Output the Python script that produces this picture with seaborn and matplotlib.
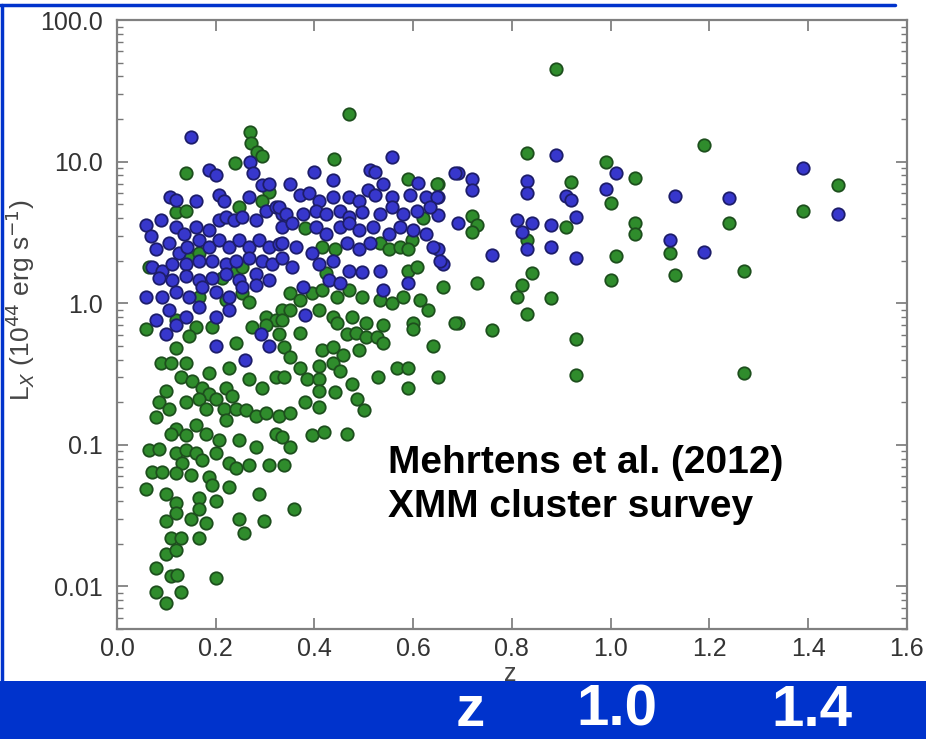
import numpy as np
import pandas as pd
import matplotlib
matplotlib.use("Agg")
import matplotlib.pyplot as plt
import matplotlib.ticker as mticker
from matplotlib.patches import Rectangle
from matplotlib.lines import Line2D
import seaborn as sns

# Blue sample (z, Lx in 1e44 erg/s)
blue_z = [
    0.89, 1.01, 0.69, 0.72, 0.72, 0.65, 0.83, 0.83, 0.91, 0.92, 0.99, 1.13, 0.65, 0.69, 0.81,
    0.84, 0.82, 0.88, 0.93, 1.12, 0.65, 0.66, 0.76, 0.83, 0.88, 0.93, 1.39, 1.24, 1.46, 1.19,
    0.15, 0.187, 0.2, 0.27, 0.275, 0.108, 0.12, 0.16, 0.207, 0.217, 0.268, 0.294, 0.309, 0.059,
    0.069, 0.089, 0.12, 0.136, 0.16, 0.187, 0.207, 0.221, 0.238, 0.254, 0.282, 0.302, 0.323,
    0.335, 0.079, 0.106, 0.126, 0.142, 0.166, 0.187, 0.207, 0.227, 0.248, 0.268, 0.288, 0.309,
    0.329, 0.071, 0.091, 0.112, 0.14, 0.166, 0.193, 0.221, 0.242, 0.268, 0.294, 0.315, 0.335,
    0.085, 0.112, 0.14, 0.166, 0.193, 0.221, 0.248, 0.282, 0.309, 0.059, 0.091, 0.12, 0.146,
    0.173, 0.2, 0.227, 0.254, 0.282, 0.079, 0.106, 0.14, 0.166, 0.2, 0.227,
    0.558, 0.4, 0.512, 0.522, 0.684, 0.35, 0.437, 0.538, 0.609, 0.508, 0.522, 0.558, 0.37, 0.39,
    0.41, 0.437, 0.471, 0.491, 0.593, 0.627, 0.648, 0.329, 0.343, 0.376, 0.404, 0.424, 0.451,
    0.471, 0.497, 0.532, 0.558, 0.579, 0.607, 0.634, 0.335, 0.355, 0.404, 0.424, 0.451, 0.471,
    0.491, 0.518, 0.552, 0.573, 0.6, 0.627, 0.335, 0.363, 0.396, 0.465, 0.491, 0.512, 0.64,
    0.654, 0.355, 0.41, 0.437, 0.471, 0.497, 0.532, 0.589, 0.376, 0.43, 0.451, 0.538, 0.38,
    0.1, 0.12, 0.2, 0.292, 0.309, 0.26,
]
blue_lx = [
    11.1, 8.3, 8.3, 7.5, 6.3, 5.6, 7.3, 6.0, 5.7, 5.4, 6.4, 5.7, 4.2, 3.7, 3.9,
    3.7, 3.2, 3.55, 4.05, 2.8, 2.4, 1.9, 2.2, 2.4, 2.5, 2.1, 9.0, 5.5, 4.3, 2.3,
    14.9, 8.7, 8.0, 10.0, 8.3, 5.6, 5.4, 5.3, 5.8, 5.3, 5.6, 6.8, 7.0, 3.55,
    3.0, 3.85, 3.45, 3.1, 3.45, 3.3, 3.85, 4.05, 3.85, 4.05, 3.85, 4.5, 4.8,
    4.3, 2.4, 2.65, 2.25, 2.5, 2.8, 2.5, 2.8, 2.5, 2.8, 2.5, 2.8, 2.5,
    2.6, 1.8, 1.7, 1.9, 1.9, 2.0, 2.0, 1.9, 2.0, 2.1, 2.0, 1.9, 2.1,
    1.5, 1.45, 1.55, 1.45, 1.5, 1.6, 1.45, 1.6, 1.45, 1.1, 1.1, 1.2, 1.1,
    1.3, 1.2, 1.1, 1.3, 1.35, 0.76, 0.89, 0.8, 0.94, 0.8, 0.89,
    10.8, 8.4, 8.7, 8.4, 8.3, 7.0, 7.4, 7.0, 7.1, 6.3, 5.8, 5.6, 5.8, 6.0,
    5.3, 5.6, 5.6, 5.3, 5.8, 5.6, 5.6, 4.8, 4.3, 4.3, 4.5, 4.3, 4.5,
    4.05, 4.4, 4.3, 4.8, 4.3, 4.5, 4.8, 3.45, 3.7, 3.45, 3.1, 3.45, 3.7,
    3.3, 3.45, 3.1, 3.45, 3.3, 3.1, 2.65, 2.5, 2.25, 2.65, 2.4, 2.65, 2.5,
    2.0, 1.8, 1.9, 2.0, 1.7, 1.65, 1.7, 1.4, 1.3, 1.45, 1.4, 1.24, 0.82,
    0.61, 0.7, 0.5, 0.61, 0.5, 0.4,
]

# Green sample (z, Lx in 1e44 erg/s)
green_z = [
    0.89, 0.83, 0.99, 1.05, 0.65, 0.92, 1.0, 0.72, 0.73, 0.72, 0.83, 0.91, 1.05, 1.05, 1.12,
    1.01, 1.13, 0.66, 0.73, 0.84, 0.82, 0.81, 0.88, 1.0, 0.83, 0.69, 0.76, 0.93, 0.65, 0.93,
    1.19, 1.46, 1.39, 1.24, 1.27, 1.27,
    0.27, 0.272, 0.284, 0.294, 0.24, 0.14, 0.12, 0.14, 0.248, 0.309, 0.294, 0.146, 0.166,
    0.065, 0.213, 0.242, 0.254, 0.166, 0.221, 0.254, 0.268, 0.302, 0.323, 0.335, 0.12, 0.16,
    0.059,
    0.47, 0.439, 0.589, 0.648, 0.619, 0.38, 0.416, 0.441, 0.532, 0.552, 0.573, 0.597, 0.589,
    0.424, 0.589, 0.607, 0.35, 0.37, 0.396, 0.416, 0.445, 0.471, 0.497, 0.532, 0.558, 0.579,
    0.613, 0.63, 0.35, 0.335, 0.41, 0.437, 0.477, 0.505, 0.538, 0.599, 0.684,
    0.12, 0.146, 0.193, 0.242, 0.274, 0.302, 0.329, 0.339, 0.089, 0.11, 0.14, 0.187, 0.227,
    0.268, 0.294, 0.323, 0.13, 0.152, 0.173, 0.187, 0.1, 0.221, 0.234, 0.2, 0.217, 0.221,
    0.085, 0.106, 0.079, 0.14, 0.166, 0.18, 0.242, 0.262, 0.282, 0.302, 0.329, 0.35, 0.12,
    0.11, 0.14, 0.16, 0.18, 0.207, 0.248, 0.282, 0.323, 0.335, 0.065, 0.085, 0.12, 0.14,
    0.16, 0.173, 0.132, 0.2, 0.071, 0.091, 0.12, 0.15, 0.187, 0.193, 0.227, 0.242, 0.268,
    0.309, 0.339, 0.059, 0.1, 0.12, 0.12, 0.1, 0.166, 0.2, 0.227, 0.15, 0.18, 0.166, 0.288,
    0.248, 0.298, 0.258, 0.11, 0.13, 0.166, 0.1, 0.12, 0.079, 0.11, 0.122, 0.2, 0.079, 0.13,
    0.1,
    0.6, 0.445, 0.465, 0.485, 0.505, 0.526, 0.37, 0.416, 0.437, 0.457, 0.491, 0.538, 0.64,
    0.35, 0.37, 0.41, 0.437, 0.451, 0.339, 0.384, 0.41, 0.477, 0.528, 0.568, 0.589, 0.589,
    0.41, 0.441, 0.38, 0.41, 0.487, 0.501, 0.396, 0.42, 0.467, 0.35, 0.359,
]
green_lx = [
    45.0, 11.5, 10.0, 7.6, 7.0, 7.2, 5.1, 4.1, 3.55, 3.2, 2.8, 3.45, 3.7, 3.1, 2.25,
    2.15, 1.58, 1.3, 1.4, 1.63, 1.34, 1.1, 1.08, 1.45, 0.84, 0.72, 0.65, 0.56, 0.30, 0.31,
    13.0, 6.8, 4.5, 3.7, 1.7, 0.32,
    16.1, 13.5, 11.7, 10.9, 9.8, 8.3, 4.4, 4.5, 4.8, 6.1, 5.3, 2.1, 2.25,
    1.8, 1.5, 1.7, 1.8, 1.1, 1.05, 1.18, 1.02, 0.8, 0.76, 0.89, 0.76, 0.68,
    0.66,
    21.7, 10.4, 7.5, 7.0, 4.0, 3.4, 2.5, 2.4, 2.65, 2.4, 2.5, 2.8, 2.4,
    1.63, 1.7, 1.8, 1.18, 1.05, 1.18, 1.24, 1.1, 1.24, 1.1, 1.05, 1.0, 1.1,
    1.05, 0.89, 0.89, 0.76, 0.89, 0.8, 0.8, 0.72, 0.7, 0.72, 0.73,
    0.48, 0.59, 0.68, 0.52, 0.68, 0.7, 0.61, 0.49, 0.38, 0.38, 0.38, 0.32, 0.35,
    0.29, 0.25, 0.3, 0.3, 0.28, 0.25, 0.23, 0.24, 0.25, 0.22, 0.21, 0.18, 0.15,
    0.2, 0.18, 0.157, 0.2, 0.21, 0.18, 0.18, 0.175, 0.16, 0.167, 0.16, 0.167, 0.13,
    0.12, 0.117, 0.137, 0.12, 0.108, 0.108, 0.096, 0.12, 0.113, 0.092, 0.094, 0.087, 0.092,
    0.087, 0.078, 0.074, 0.087, 0.064, 0.064, 0.063, 0.061, 0.059, 0.052, 0.075, 0.069, 0.072,
    0.072, 0.072, 0.049, 0.045, 0.039, 0.033, 0.029, 0.042, 0.04, 0.05, 0.03, 0.028, 0.035, 0.045,
    0.03, 0.029, 0.024, 0.022, 0.022, 0.022, 0.017, 0.018, 0.0135, 0.0118, 0.012, 0.0115, 0.0092, 0.0092,
    0.0076,
    0.66, 0.72, 0.61, 0.62, 0.58, 0.58, 0.62, 0.47, 0.49, 0.43, 0.47, 0.52, 0.5,
    0.42, 0.35, 0.36, 0.38, 0.33, 0.3, 0.29, 0.29, 0.27, 0.3, 0.35, 0.35, 0.25,
    0.24, 0.235, 0.2, 0.185, 0.21, 0.176, 0.117, 0.123, 0.12, 0.096, 0.035,
]

x_ticks = [0.0, 0.2, 0.4, 0.6, 0.8, 1.0, 1.2, 1.4, 1.6]
x_tick_labels = ["0.0", "0.2", "0.4", "0.6", "0.8", "1.0", "1.2", "1.4", "1.6"]
y_ticks = [0.01, 0.1, 1.0, 10.0, 100.0]
y_tick_labels = ["0.01", "0.1", "1.0", "10.0", "100.0"]
band_labels = ["z", "1.0", "1.4"]

sns.set_theme(style="ticks")
plt.rcParams["font.family"] = ["Liberation Sans", "DejaVu Sans"]

blue_df = pd.DataFrame({"z": blue_z, "lx": blue_lx})
green_df = pd.DataFrame({"z": green_z, "lx": green_lx})

fig = plt.figure(figsize=(9.26, 7.39), dpi=100)
ax = fig.add_axes([0.1263, 0.1488, 0.853, 0.8241])

sns.scatterplot(data=green_df, x="z", y="lx", ax=ax, color="#2f8c2c",
                edgecolor="#1d4f1d", s=80, linewidth=1.3, zorder=3)
sns.scatterplot(data=blue_df, x="z", y="lx", ax=ax, color="#3737cc",
                edgecolor="#1d1d6a", s=80, linewidth=1.3, zorder=4)

ax.set_yscale("log")
ax.set_xlim(0, 1.6)
ax.set_ylim(0.005, 100)
ax.set_xticks(x_ticks)
ax.set_xticklabels(x_tick_labels)
ax.set_yticks(y_ticks)
ax.set_yticklabels(y_tick_labels)
ax.yaxis.set_minor_locator(mticker.LogLocator(base=10, subs=np.arange(2, 10)))
ax.yaxis.set_minor_formatter(mticker.NullFormatter())
ax.set_xlabel("")
ax.set_ylabel("")

ax.tick_params(which="both", direction="in", top=True, right=True, color="#777777")
ax.tick_params(which="major", length=8, width=1.2, labelsize=18, labelcolor="#333333")
ax.tick_params(axis="x", which="major", pad=6)
ax.tick_params(axis="y", which="major", pad=10)
ax.tick_params(which="minor", length=4, width=1.0)
for sp in ax.spines.values():
    sp.set_color("#808080")
    sp.set_linewidth(1.6)

fig.text(20 / 926, 1 - 300 / 739, r"L$_X$ (10$^{44}$ erg s$^{-1}$)", rotation=90,
         ha="center", va="center", fontsize=19, color="#444444")
fig.text(510 / 926, 1 - 674 / 739, "z", ha="center", va="center", fontsize=18, color="#444444")

fig.text(388 / 926, 1 - 473 / 739, "Mehrtens et al. (2012)", fontsize=28,
         fontweight="bold", color="black", ha="left", va="baseline")
fig.text(388 / 926, 1 - 517 / 739, "XMM cluster survey", fontsize=28,
         fontweight="bold", color="black", ha="left", va="baseline")

# slide frame and bottom band
band_color = "#0033cc"
fig.add_artist(Rectangle((0, 0), 1, 58 / 739, transform=fig.transFigure,
                         facecolor=band_color, edgecolor="none", zorder=10))
fig.add_artist(Line2D([0, 895 / 926], [1 - 5 / 739, 1 - 5 / 739], transform=fig.transFigure,
                      color=band_color, lw=2.5, zorder=10))
fig.add_artist(Line2D([1.5 / 926, 1.5 / 926], [58 / 739, 1 - 5 / 739], transform=fig.transFigure,
                      color=band_color, lw=2.5, zorder=10))
for label, xp in zip(band_labels, [470, 617, 812]):
    fig.text(xp / 926, 1 - 726 / 739, label, ha="center", va="baseline", fontsize=42,
             fontweight="bold", color="white", zorder=11)

fig.savefig("out.png", dpi=100)
